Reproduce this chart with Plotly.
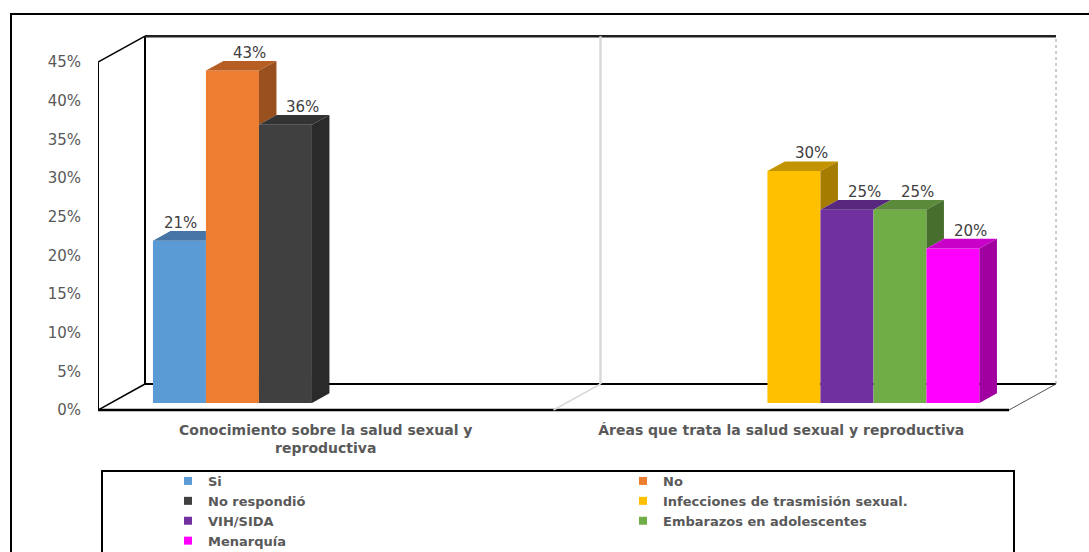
import plotly.graph_objects as go

# ---- data ----
categories = ["Conocimiento sobre la salud sexual y<br>reproductiva",
              "Áreas que trata la salud sexual y reproductiva"]
series_names = ["Si", "No", "No respondió", "Infecciones de trasmisión sexual.",
                "VIH/SIDA", "Embarazos en adolescentes", "Menarquía"]
series_category = [0, 0, 0, 1, 1, 1, 1]
series_values = [21, 43, 36, 30, 25, 25, 20]
y_ticks = [0, 5, 10, 15, 20, 25, 30, 35, 40, 45]
y_tick_labels = [f"{t}%" for t in y_ticks]

# ---- styling ----
front_colors = ["#5B9BD5", "#ED7D31", "#404040", "#FFC000", "#7030A0", "#70AD47", "#FF00FF"]
top_colors = ["#4776A6", "#B65E24", "#333333", "#C49300", "#58287F", "#5A8A3A", "#C800C8"]
side_colors = ["#3C6790", "#9A4F1E", "#2A2A2A", "#A67C00", "#4A216B", "#476E2D", "#A000A0"]
label_nudge_px = {"Si": -16}

W, H = 1089, 552
L, R, T, B = 98, 1058, 30, 412          # plot area in pixels
PX_PER_CAT = 455.5
PX_PER_PCT = 7.73
ZERO_FRONT_PX = 410                      # row of 0% on the front plane
BAR_SHIFT = (12.7, 7.0)                  # bar fronts sit this far behind the front plane
BAR_DEPTH = (17.5, 9.7)                  # projected depth of each bar
BOX_DEPTH = (47.0, 26.0)                 # projected depth of the walls
BAR_PX = 53
N_SLOTS = len(series_names)

TEXT = "#595959"
FONT = "DejaVu Sans"


def ux(p):
    return p / PX_PER_CAT


def uy(p):
    return p / PX_PER_PCT


def paper_x(px):
    return (px - L) / (R - L)


def paper_y(py):
    return (B - py) / (B - T)


x_range = [-0.5, -0.5 + ux(R - L)]
y_range = [-uy(B - ZERO_FRONT_PX), -uy(B - ZERO_FRONT_PX) + uy(B - T)]
x2_range = [x_range[0] - ux(BAR_SHIFT[0]), x_range[1] - ux(BAR_SHIFT[0])]
y2_range = [y_range[0] - uy(BAR_SHIFT[1]), y_range[1] - uy(BAR_SHIFT[1])]

bw = ux(BAR_PX)
ddx, ddy = ux(BAR_DEPTH[0]), uy(BAR_DEPTH[1])

fig = go.Figure()

centers = [series_category[i] + (i - (N_SLOTS - 1) / 2) * bw for i in range(N_SLOTS)]

# front faces
for i, name in enumerate(series_names):
    fig.add_trace(go.Bar(
        x=[centers[i]], y=[series_values[i]], width=[bw],
        marker=dict(color=front_colors[i], line=dict(width=0)),
        xaxis="x2", yaxis="y2", showlegend=False, hoverinfo="skip", name=name))


def poly(pts, color):
    xs = [p[0] for p in pts] + [pts[0][0]]
    ys = [p[1] for p in pts] + [pts[0][1]]
    return go.Scatter(x=xs, y=ys, fill="toself", fillcolor=color, mode="lines",
                      line=dict(width=0, color=color), xaxis="x2", yaxis="y2",
                      showlegend=False, hoverinfo="skip")


# top and side faces, hidden parts removed where the neighbouring bar covers them
for i in range(N_SLOTS):
    v = series_values[i]
    x0, x1 = centers[i] - bw / 2, centers[i] + bw / 2
    nxt = i + 1 if i + 1 < N_SLOTS and series_category[i + 1] == series_category[i] else None
    vn = series_values[nxt] if nxt is not None else None
    if vn is not None and vn > v:
        top = [(x0, v), (x1, v), (x1, v + ddy), (x0 + ddx, v + ddy)]
    else:
        top = [(x0, v), (x1, v), (x1 + ddx, v + ddy), (x0 + ddx, v + ddy)]
    fig.add_trace(poly(top, top_colors[i]))
    lo = 0 if vn is None else (vn if vn < v else None)
    if lo is not None:
        side = [(x1, lo), (x1, v), (x1 + ddx, v + ddy), (x1 + ddx, lo + ddy)]
        fig.add_trace(poly(side, side_colors[i]))

# legend entries
for i, name in enumerate(series_names):
    fig.add_trace(go.Scatter(
        x=[None], y=[None], mode="markers", name=name,
        marker=dict(symbol="square", size=8, color=front_colors[i]),
        xaxis="x2", yaxis="y2"))

# value labels above the back edge of each top face
annotations = []
for i, name in enumerate(series_names):
    v = series_values[i]
    annotations.append(dict(
        x=centers[i] + ddx, y=v + ddy, xref="x2", yref="y2",
        text=f"{v}%", showarrow=False, yanchor="bottom", yshift=-3,
        xshift=label_nudge_px.get(name, 0),
        font=dict(family=FONT, size=15, color="#404040")))

# 3-D frame: walls and floor
DX, DY = ux(BOX_DEPTH[0]), uy(BOX_DEPTH[1])
ymax = y_ticks[-1]
xl, xr, xm = -0.5, len(categories) - 0.5, 0.5
black = dict(color="black", width=2)
shapes = [
    dict(type="line", x0=xl, y0=0, x1=xl, y1=ymax, line=black),
    dict(type="line", x0=xl, y0=ymax, x1=xl + DX, y1=ymax + DY, line=dict(color="black", width=1.5)),
    dict(type="line", x0=xl, y0=0, x1=xl + DX, y1=DY, line=dict(color="black", width=1.5)),
    dict(type="line", x0=xl + DX, y0=DY, x1=xl + DX, y1=ymax + DY, line=black),
    dict(type="line", x0=xl + DX, y0=ymax + DY, x1=xr + DX, y1=ymax + DY, line=dict(color="#202020", width=2.5)),
    dict(type="line", x0=xl + DX, y0=DY, x1=xr + DX, y1=DY, line=black),
    dict(type="line", x0=xr + DX, y0=DY, x1=xr + DX, y1=ymax + DY, line=dict(color="#9a9a9a", width=1, dash="dot")),
    dict(type="line", x0=xl, y0=0, x1=xr, y1=0, line=dict(color="black", width=2.5)),
    dict(type="line", x0=xr, y0=0, x1=xr + DX, y1=DY, line=dict(color="#555555", width=1)),
    dict(type="line", x0=xm + DX, y0=DY, x1=xm + DX, y1=ymax + DY, line=dict(color="#d9d9d9", width=2.5)),
    dict(type="line", x0=xm, y0=0, x1=xm + DX, y1=DY, line=dict(color="#d9d9d9", width=1.5)),
]
for s in shapes:
    s.update(xref="x", yref="y", layer="below")

# outer chart border and legend box
shapes.append(dict(type="rect", xref="paper", yref="paper",
                   x0=paper_x(11), x1=paper_x(W + 10), y0=paper_y(H + 10), y1=paper_y(14),
                   line=dict(color="black", width=2), layer="below"))
shapes.append(dict(type="rect", xref="paper", yref="paper",
                   x0=paper_x(102), x1=paper_x(1014), y0=paper_y(H + 10), y1=paper_y(471),
                   line=dict(color="black", width=2), layer="below"))

fig.update_layout(
    width=W, height=H, autosize=False,
    margin=dict(l=L, r=W - R, t=T, b=H - B, pad=0, autoexpand=False),
    paper_bgcolor="white", plot_bgcolor="rgba(0,0,0,0)",
    barmode="overlay", showlegend=True,
    xaxis=dict(range=x_range, tickvals=list(range(len(categories))), ticktext=categories,
               showgrid=False, zeroline=False, showline=False, ticks="",
               ticklabelstandoff=8, automargin=False,
               tickfont=dict(family=FONT, size=14, color=TEXT, weight="bold")),
    yaxis=dict(range=y_range, tickvals=y_ticks, ticktext=y_tick_labels,
               showgrid=False, zeroline=False, showline=False, ticks="",
               ticklabelstandoff=16, automargin=False,
               tickfont=dict(family=FONT, size=15, color=TEXT)),
    xaxis2=dict(range=x2_range, overlaying="x", anchor="y2", visible=False),
    yaxis2=dict(range=y2_range, overlaying="y", anchor="x2", visible=False),
    legend=dict(orientation="h", xref="container", yref="container",
                x=168 / W, y=1 - 466 / H, xanchor="left", yanchor="top",
                entrywidth=410, entrywidthmode="pixels", bgcolor="rgba(0,0,0,0)",
                borderwidth=0, traceorder="normal", itemclick=False,
                font=dict(family=FONT, size=13, color=TEXT, weight="bold")),
    annotations=annotations,
    shapes=shapes,
)

fig.write_html("out.html")
